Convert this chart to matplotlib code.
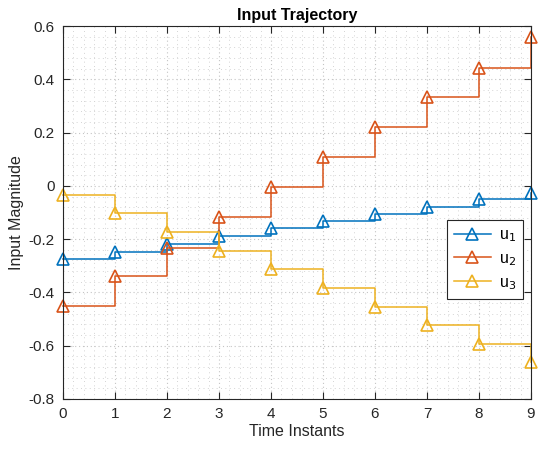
import matplotlib
matplotlib.use("Agg")
import matplotlib.pyplot as plt
from matplotlib.ticker import MultipleLocator
import numpy as np

plt.rcParams['font.family'] = ['Liberation Sans', 'DejaVu Sans']

t = [0, 1, 2, 3, 4, 5, 6, 7, 8, 9]
u1 = [-0.275, -0.247, -0.218, -0.188, -0.159, -0.131, -0.105, -0.078, -0.050, -0.026]
u2 = [-0.452, -0.340, -0.233, -0.118, -0.003, 0.110, 0.221, 0.333, 0.444, 0.557]
u3 = [-0.034, -0.103, -0.173, -0.245, -0.313, -0.383, -0.453, -0.523, -0.593, -0.660]
labels = ['u$_1$', 'u$_2$', 'u$_3$']
colors = ['#0072BD', '#D95319', '#EDB120']

fig = plt.figure(figsize=(5.42, 4.49), dpi=100)
ax = fig.add_axes([0.1162, 0.1114, 0.8635, 0.8306])

for y, lab, c in zip([u1, u2, u3], labels, colors):
    ax.plot(t, y, drawstyle='steps-post', color=c, lw=1.1, marker='^',
            markersize=8, markerfacecolor='none', markeredgewidth=1.2, label=lab,
            clip_on=False, zorder=3)

ax.set_xlim(0, 9)
ax.set_ylim(-0.8, 0.6)
ax.xaxis.set_major_locator(MultipleLocator(1))
ax.xaxis.set_minor_locator(MultipleLocator(0.2))
ax.yaxis.set_minor_locator(MultipleLocator(0.04))
ax.set_yticks(np.arange(-0.8, 0.61, 0.2))
ax.set_yticklabels(['-0.8', '-0.6', '-0.4', '-0.2', '0', '0.2', '0.4', '0.6'])
ax.grid(True, which='major', color='#c4c4c4', linestyle=(0, (1, 2.5)), lw=0.8)
ax.grid(True, which='minor', color='#d4d4d4', linestyle=(0, (1, 3.5)), lw=0.7)
ax.set_axisbelow(True)
ax.tick_params(which='major', direction='in', top=True, right=True, length=5,
               labelsize=11, color='#262626', labelcolor='#262626', width=0.8, pad=6)
ax.tick_params(which='minor', length=0, top=True, right=True)
for s in ax.spines.values():
    s.set_color('#262626')
    s.set_linewidth(0.8)
    s.set_zorder(4)

ax.set_title('Input Trajectory', fontsize=11.5, fontweight='bold', pad=4)
ax.set_xlabel('Time Instants', fontsize=11.5, color='#262626', labelpad=2)
ax.set_ylabel('Input Magnitude', fontsize=11.5, color='#262626', labelpad=3)

leg = ax.legend(loc='upper right', bbox_to_anchor=(0.983, 0.48), fontsize=11.5,
                fancybox=False, framealpha=1, edgecolor='#262626',
                handlelength=2.3, handletextpad=0.5, borderpad=0.45,
                borderaxespad=0, labelspacing=0.45)
leg.get_frame().set_linewidth(0.8)
leg.set_zorder(5)

fig.savefig('out.png', dpi=100)
